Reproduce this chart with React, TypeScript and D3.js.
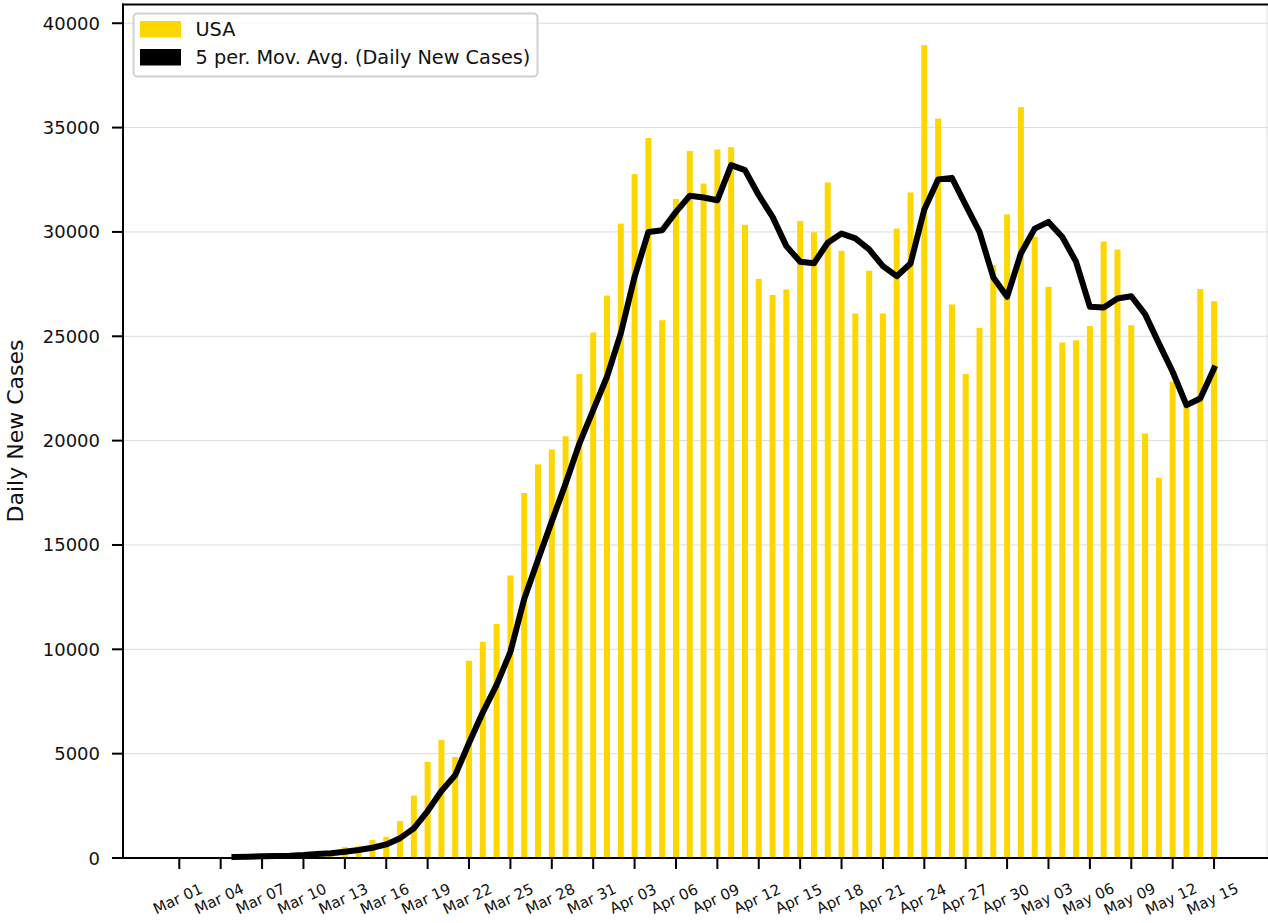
import React from 'react';
import * as d3 from 'd3';

// Daily new cases, Mar 01 .. May 15 2020
const dailyCases: number[] = [
  10, 20, 25, 35, 70, 50, 120, 110, 70, 200,
  250, 300, 520, 560, 860, 1020, 1770, 2990, 4610, 5650,
  4840, 9450, 10360, 11210, 13540, 17490, 18860, 19580, 20210, 23190,
  25180, 26950, 30400, 32770, 34500, 25770, 31580, 33880, 32320, 33950,
  34060, 30340, 27750, 26980, 27240, 30520, 29980, 32370, 29090, 26090,
  28140, 26090, 30160, 31890, 38950, 35430, 26520, 23190, 25400, 28410,
  30840, 35980, 29770, 27370, 24700, 24810, 25490, 29540, 29160, 25530,
  20340, 18220, 22820, 21700, 27260, 26680,
];

// 5-period moving average, Mar 05 .. May 15
const movingAvg: number[] = [
  50, 60, 80, 100, 110, 140, 190, 230, 300, 380,
  490, 650, 950, 1420, 2250, 3210, 3970, 5510, 6980, 8300,
  9880, 12410, 14290, 16130, 17940, 19860, 21460, 23060, 25140, 27850,
  30000, 30080, 30960, 31730, 31650, 31520, 33200, 32960, 31760, 30720,
  29320, 28570, 28500, 29480, 29920, 29690, 29160, 28360, 27880, 28490,
  31080, 32510, 32590, 31280, 30000, 27820, 26890, 28970, 30160, 30480,
  29760, 28570, 26410, 26380, 26810, 26920, 26060, 24660, 23300, 21700,
  22020, 23460,
];
const movingAvgStart = 4; // index of Mar 05

const xTickLabels: string[] = [
  'Mar 01', 'Mar 04', 'Mar 07', 'Mar 10', 'Mar 13', 'Mar 16', 'Mar 19', 'Mar 22',
  'Mar 25', 'Mar 28', 'Mar 31', 'Apr 03', 'Apr 06', 'Apr 09', 'Apr 12', 'Apr 15',
  'Apr 18', 'Apr 21', 'Apr 24', 'Apr 27', 'Apr 30', 'May 03', 'May 06', 'May 09',
  'May 12', 'May 15',
];
const yTickValues: number[] = [0, 5000, 10000, 15000, 20000, 25000, 30000, 35000, 40000];

const dates = d3.utcDay.range(new Date(Date.UTC(2020, 2, 1)), new Date(Date.UTC(2020, 4, 16)));
const fmt = d3.utcFormat('%b %d');
const dateLabels = dates.map((d) => fmt(d));

const W = 1268;
const H = 923;
const FONT = 'DejaVu Sans, sans-serif';
const TEXT = '#111';

export default function App() {
  const x = d3.scaleLinear().domain([-4.08, 78.91]).range([123, 1268]);
  const y = d3.scaleLinear().domain([0, 40898]).range([858, 4.5]);
  const barW = 6;
  const line = d3
    .line<number>()
    .x((_, i) => x(i + movingAvgStart))
    .y((d) => y(d));

  return (
    <svg
      width={W}
      height={H}
      style={{ position: 'absolute', left: 0, top: 0, background: '#fff' }}
      fontFamily={FONT}
    >
      <rect x={0} y={0} width={W} height={H} fill="#fff" />
      {/* grid */}
      {yTickValues.map((v) => (
        <line key={'g' + v} x1={123} x2={1268} y1={y(v)} y2={y(v)} stroke="#dcdcdc" strokeWidth={1} />
      ))}
      <line x1={1267} x2={1267} y1={4.5} y2={858} stroke="#dcdcdc" strokeWidth={1} />
      {/* bars */}
      {dailyCases.map((v, i) => (
        <rect
          key={'b' + i}
          x={x(i) - barW / 2}
          y={y(v)}
          width={barW}
          height={y(0) - y(v)}
          fill="#FFD700"
        />
      ))}
      {/* moving average */}
      <path
        d={line(movingAvg) || ''}
        fill="none"
        stroke="#000"
        strokeWidth={6}
        strokeLinejoin="round"
        strokeLinecap="square"
      />
      {/* spines */}
      <line x1={123} x2={123} y1={3.5} y2={859} stroke="#000" strokeWidth={2} />
      <line x1={122} x2={1268} y1={858} y2={858} stroke="#000" strokeWidth={2} />
      <line x1={122} x2={1268} y1={4.5} y2={4.5} stroke="#000" strokeWidth={2.2} />
      {/* y ticks */}
      {yTickValues.map((v) => (
        <g key={'yt' + v}>
          <line x1={112} x2={123} y1={y(v)} y2={y(v)} stroke="#000" strokeWidth={2} />
          <text x={100} y={y(v)} textAnchor="end" dominantBaseline="central" fontSize={18} fill={TEXT}>
            {v}
          </text>
        </g>
      ))}
      {/* x ticks */}
      {xTickLabels.map((lab) => {
        const idx = dateLabels.indexOf(lab);
        const tx = x(idx);
        return (
          <g key={'xt' + lab}>
            <line x1={tx} x2={tx} y1={858} y2={869} stroke="#000" strokeWidth={2} />
            <text
              transform={`translate(${tx - 1.5},899) rotate(-25)`}
              textAnchor="middle"
              dominantBaseline="central"
              fontSize={15}
              fill={TEXT}
            >
              {lab}
            </text>
          </g>
        );
      })}
      {/* y label */}
      <text
        transform="translate(23,431) rotate(-90)"
        textAnchor="middle"
        fontSize={22}
        fill={TEXT}
      >
        Daily New Cases
      </text>
      {/* legend */}
      <rect x={133.5} y={13.5} width={404} height={63} rx={4} fill="#fff" fillOpacity={0.8} stroke="#d0d0d0" strokeWidth={2} />
      <rect x={140} y={21} width={41} height={16.5} fill="#FFD700" />
      <rect x={140} y={49} width={41} height={16.5} fill="#000" />
      <text x={195.5} y={29.5} dominantBaseline="central" fontSize={19.3} fill={TEXT}>
        USA
      </text>
      <text x={195.5} y={57.5} dominantBaseline="central" fontSize={19.3} fill={TEXT}>
        5 per. Mov. Avg. (Daily New Cases)
      </text>
    </svg>
  );
}
